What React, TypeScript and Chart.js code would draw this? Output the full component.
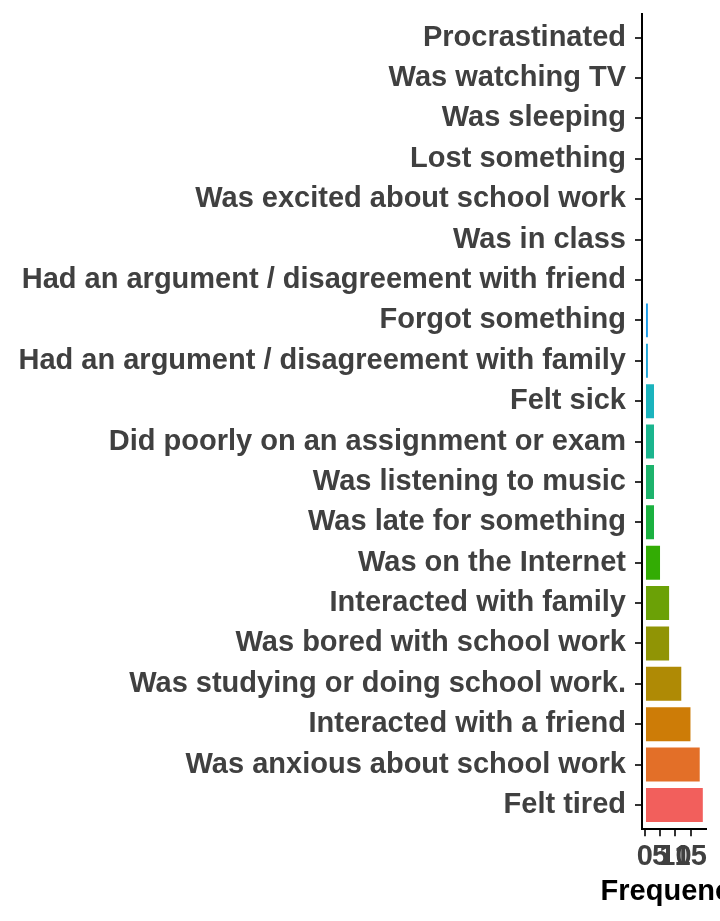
import React, { useEffect, useRef } from "react";
import { Chart, registerables } from "chart.js";

Chart.register(...registerables);

// Categories listed from top to bottom, as in the picture
const categories = [
  "Procrastinated",
  "Was watching TV",
  "Was sleeping",
  "Lost something",
  "Was excited about school work",
  "Was in class",
  "Had an argument / disagreement with friend",
  "Forgot something",
  "Had an argument / disagreement with family",
  "Felt sick",
  "Did poorly on an assignment or exam",
  "Was listening to music",
  "Was late for something",
  "Was on the Internet",
  "Interacted with family",
  "Was bored with school work",
  "Was studying or doing school work.",
  "Interacted with a friend",
  "Was anxious about school work",
  "Felt tired",
];

const frequencies = [0, 0, 0, 0, 0, 0, 0, 1, 1, 3, 3, 3, 3, 5, 8, 8, 12, 15, 18, 19];

const barColors = [
  "#F2557F",
  "#EE4FA8",
  "#E650C8",
  "#D459E0",
  "#B46AEE",
  "#8580EE",
  "#3094EE",
  "#1C9DEA",
  "#1EA6D8",
  "#1BB3BD",
  "#1BB58E",
  "#1DB36C",
  "#1BB140",
  "#33AC04",
  "#6BA106",
  "#909405",
  "#AF8A05",
  "#CD7C07",
  "#E36F28",
  "#F25F5C",
];

const xTicks = [0, 5, 10, 15];
const xTitle = "Frequency";

const FONT = "'Liberation Sans', Arial, Helvetica, sans-serif";
const FONT_SIZE = 29;

const xTitlePlugin = {
  id: "xTitleUnclipped",
  afterDraw(chart: any) {
    const { ctx, chartArea } = chart;
    ctx.save();
    ctx.font = `bold ${FONT_SIZE}px ${FONT}`;
    ctx.fillStyle = "#000000";
    ctx.textAlign = "center";
    ctx.textBaseline = "alphabetic";
    ctx.fillText(xTitle, (chartArea.left + chartArea.right) / 2, 900);
    ctx.restore();
  },
};

export default function App() {
  const ref = useRef<HTMLCanvasElement | null>(null);

  useEffect(() => {
    if (!ref.current) return;
    const chart = new Chart(ref.current, {
      type: "bar",
      data: {
        datasets: [
          {
            data: frequencies.map((v, i) => ({ x: v, y: i })),
            backgroundColor: barColors,
            borderColor: "rgba(255,255,255,0.45)",
            borderWidth: { top: 1, bottom: 1, left: 0, right: 0 },
            borderSkipped: false,
            barPercentage: 0.89,
            categoryPercentage: 1,
          },
        ],
      },
      plugins: [xTitlePlugin],
      options: {
        indexAxis: "y",
        animation: false,
        responsive: false,
        maintainAspectRatio: false,
        layout: { padding: { top: 13.5, right: 14.2, left: 0, bottom: 0 } },
        plugins: {
          legend: { display: false },
          tooltip: { enabled: false },
        },
        scales: {
          x: {
            type: "linear",
            position: "bottom",
            min: -0.95,
            max: 19.95,
            offset: false,
            afterBuildTicks: (axis: any) => {
              axis.ticks = xTicks.map((v) => ({ value: v }));
            },
            afterFit: (s: any) => {
              s.height = 91.8;
              s.paddingLeft = 0;
              s.paddingRight = 0;
            },
            grid: {
              drawOnChartArea: false,
              drawTicks: true,
              offset: false,
              tickLength: 7,
              color: "#333333",
              lineWidth: 2,
            },
            border: { display: true, color: "#000000", width: 2 },
            ticks: {
              autoSkip: false,
              maxRotation: 0,
              minRotation: 0,
              padding: 3,
              color: "#404040",
              font: { family: FONT, size: FONT_SIZE, weight: "bold" },
              callback: (v: any) => String(v),
            },
            title: { display: false },
          },
          y: {
            type: "linear",
            position: "left",
            reverse: true,
            offset: false,
            min: -0.6,
            max: categories.length - 1 + 0.6,
            afterBuildTicks: (axis: any) => {
              axis.ticks = categories.map((_, i) => ({ value: i }));
            },
            afterFit: (s: any) => {
              s.width = 642;
              s.paddingTop = 0;
              s.paddingBottom = 0;
            },
            grid: {
              drawOnChartArea: false,
              drawTicks: true,
              offset: false,
              tickLength: 7,
              color: "#333333",
              lineWidth: 2,
            },
            border: { display: true, color: "#000000", width: 2 },
            ticks: {
              autoSkip: false,
              padding: 9,
              color: "#404040",
              font: { family: FONT, size: FONT_SIZE, weight: "bold" },
              callback: (v: any) => categories[v as number] ?? "",
            },
          },
        },
      },
    });
    return () => chart.destroy();
  }, []);

  return (
    <div style={{ position: "absolute", left: 0, top: 0, width: 720, height: 921, background: "#ffffff" }}>
      <canvas ref={ref} width={720} height={921} style={{ width: 720, height: 921, display: "block" }} />
    </div>
  );
}
